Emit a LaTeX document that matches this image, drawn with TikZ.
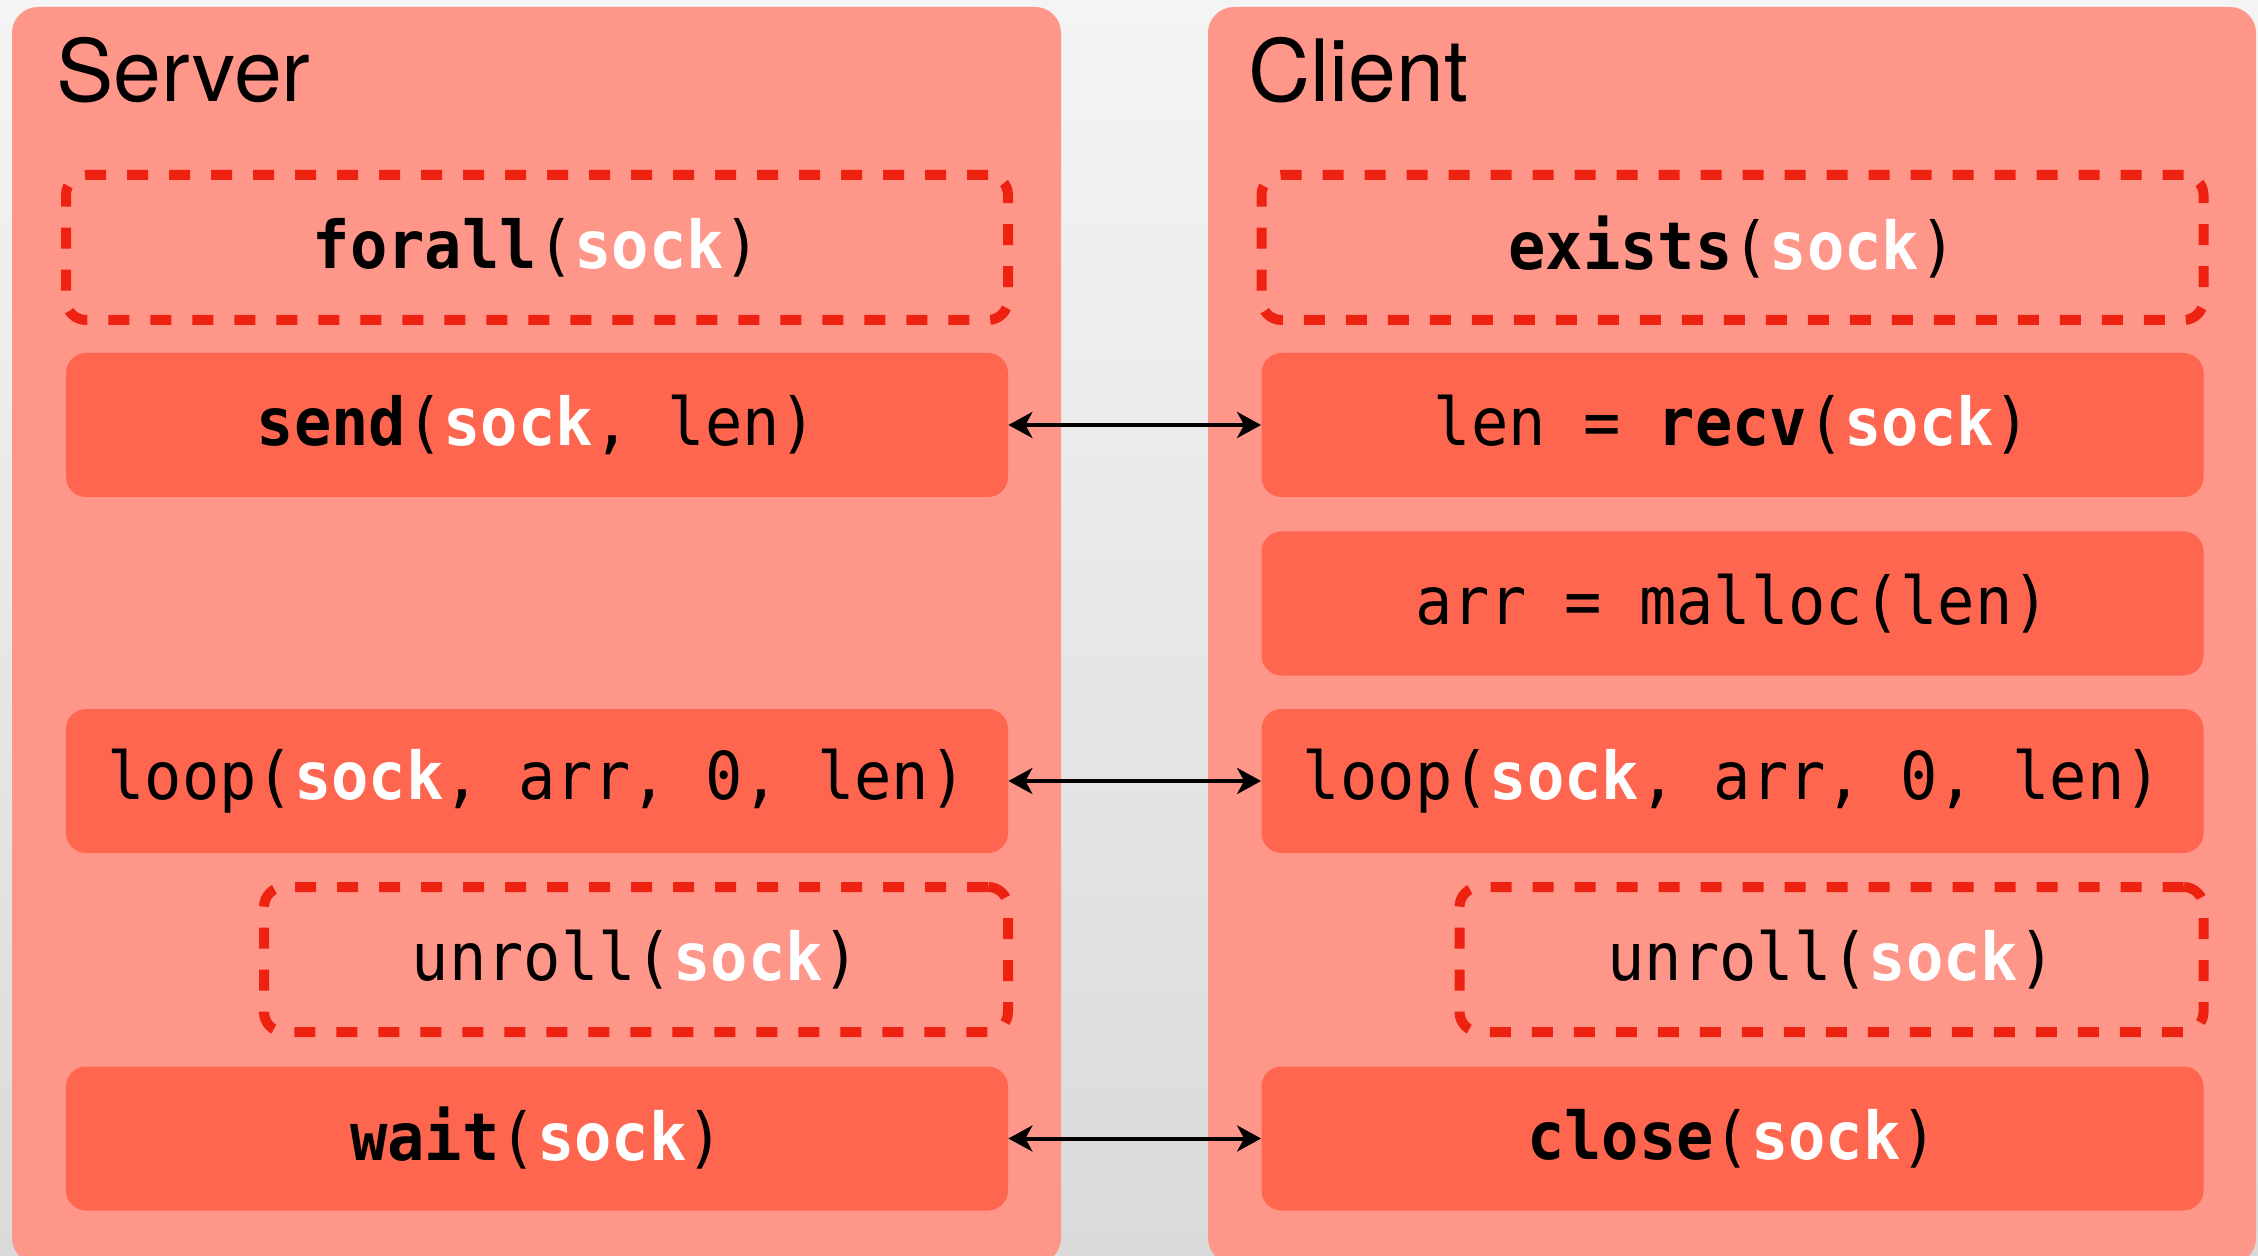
\documentclass[tikz,border=0pt]{standalone}
\usepackage{fontspec}
\setmonofont[FakeStretch=0.94]{DejaVu Sans Mono}
\newfontfamily\headfont{TeX Gyre Heros}
\usetikzlibrary{arrows.meta}

\definecolor{bgtop}{HTML}{F4F4F4}
\definecolor{bgbot}{HTML}{DADADA}
\definecolor{panelred}{HTML}{FF968A}
\definecolor{callred}{HTML}{FF6650}
\definecolor{dashred}{HTML}{EE2211}

% the socket argument is always set in white
\newcommand\sockarg{\textbf{\color{white}sock}}

\begin{document}
\begin{tikzpicture}[x=0.5pt,y=-0.5pt,
  panel/.style={fill=panelred,rounded corners=13pt},
  head/.style={anchor=base west,inner sep=0pt,font=\headfont\fontsize{43}{48}\selectfont},
  call/.style={fill=callred,rounded corners=10pt,inner sep=0pt,
    minimum width=471pt,minimum height=72pt,font=\ttfamily\fontsize{33}{38}\selectfont},
  quant/.style={draw=dashred,line width=5pt,dash pattern=on 10.5pt off 10.5pt,
    rounded corners=10pt,inner sep=0pt,minimum width=471pt,minimum height=72.5pt,
    font=\ttfamily\fontsize{33}{38}\selectfont},
  link/.style={{Stealth[length=12pt,width=13pt,inset=3.5pt]}-{Stealth[length=12pt,width=13pt,inset=3.5pt]},line width=2pt}]
\useasboundingbox (0,0) rectangle (2258,1256);
\shade[top color=bgtop,bottom color=bgbot] (0,0) rectangle (2258,1256);

% server side
\fill[panel] (12,7) rectangle (1061,1264);
\node[head] (srv) at (56,102) {Server};
\node[quant] (forall) at (537,247.5) {\textbf{forall}(\sockarg)};
\node[call] (send) at (537,425) {\textbf{send}(\sockarg, len)};
\node[call] (sloop) at (537,781) {loop(\sockarg, arr, 0, len)};
\node[quant,minimum width=372pt] (sunroll) at (636,959.5) {unroll(\sockarg)};
\node[call] (wait) at (537,1138.5) {\textbf{wait}(\sockarg)};

% client side
\fill[panel] (1208,7) rectangle (2256,1264);
\node[head] (cli) at (1248,102) {Client};
\node[quant] (exists) at (1732.5,247.5) {\textbf{exists}(\sockarg)};
\node[call] (recv) at (1732.5,425) {len = \textbf{recv}(\sockarg)};
\node[call] (malloc) at (1732.5,603.5) {arr = malloc(len)};
\node[call] (cloop) at (1732.5,781) {loop(\sockarg, arr, 0, len)};
\node[quant,minimum width=372pt] (cunroll) at (1831.5,959.5) {unroll(\sockarg)};
\node[call] (close) at (1732.5,1138.5) {\textbf{close}(\sockarg)};

% matching calls
\draw[link] (send.east) -- (recv.west);
\draw[link] (sloop.east) -- (cloop.west);
\draw[link] (wait.east) -- (close.west);
\end{tikzpicture}
\end{document}
